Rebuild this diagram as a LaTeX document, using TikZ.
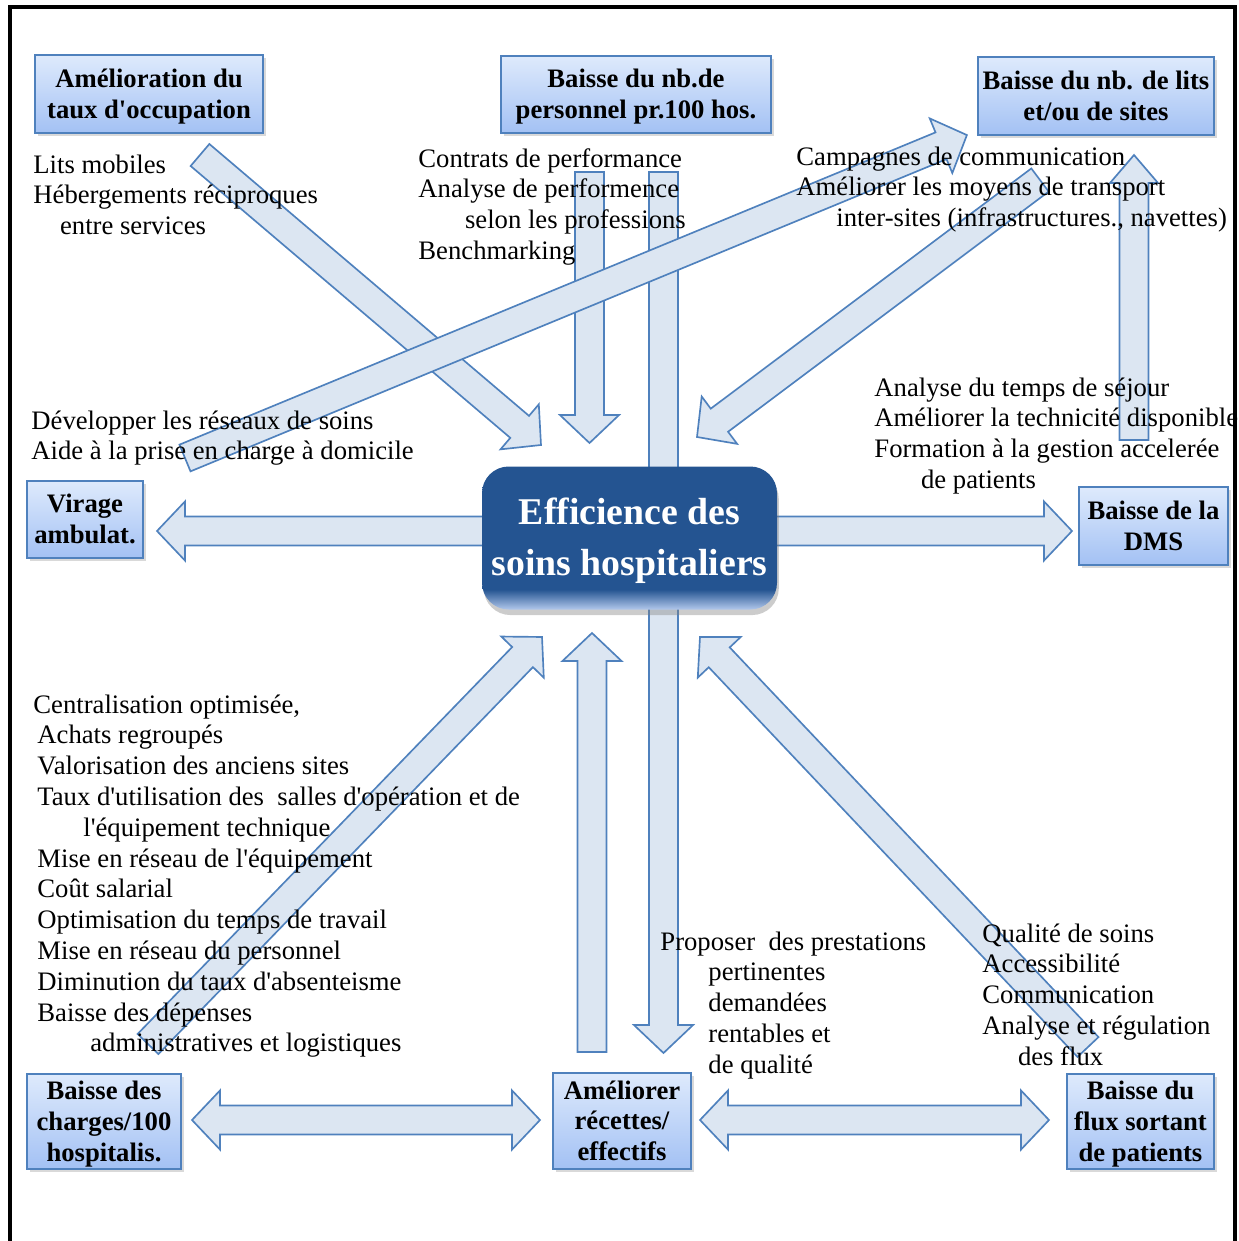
\documentclass[tikz,border=0pt]{standalone}
\usepackage{fontspec}
\setmainfont{Liberation Serif}[Ligatures=TeXOff]
\usetikzlibrary{calc,shadows}

\definecolor{boxline}{RGB}{79,129,189}
\definecolor{boxtop}{RGB}{222,234,252}
\definecolor{boxbot}{RGB}{163,193,244}
\definecolor{arrfill}{RGB}{220,230,242}
\definecolor{effblue}{RGB}{36,84,145}
\definecolor{efflight}{RGB}{178,200,236}
\pgfdeclareverticalshading{effshade}{100bp}{color(0bp)=(efflight); color(25bp)=(efflight); color(32bp)=(effblue); color(100bp)=(effblue)}

\newcommand{\hitop}{\rule{0pt}{11pt}}
\newcommand{\lowbot}{\rule[-3pt]{0pt}{3pt}}

\newcommand{\arrowgeom}[2]{%
  \path let \p1=($(#2)-(#1)$) in
    \pgfextra{\pgfmathsetmacro\tmplen{veclen(\x1,\y1)}\pgfmathsetmacro\tmpang{atan2(\y1,\x1)}%
      \xdef\arrlen{\tmplen}\xdef\arrang{\tmpang}};}
\newcommand{\blockarrow}[3][13.3pt]{%
  \arrowgeom{#2}{#3}
  \draw[arrow body,shift={(#2)},rotate=\arrang]
    (0pt,-6.5pt) -- (\arrlen pt-12.6pt,-6.5pt) -- (\arrlen pt-12.6pt,-#1) -- (\arrlen pt,0pt)
    -- (\arrlen pt-12.6pt,#1) -- (\arrlen pt-12.6pt,6.5pt) -- (0pt,6.5pt) -- cycle;}
\newcommand{\doublearrow}[2]{%
  \arrowgeom{#1}{#2}
  \draw[arrow body,shift={(#1)},rotate=\arrang]
    (0pt,0pt) -- (12.6pt,13.3pt) -- (12.6pt,6.5pt) -- (\arrlen pt-12.6pt,6.5pt) -- (\arrlen pt-12.6pt,13.3pt)
    -- (\arrlen pt,0pt) -- (\arrlen pt-12.6pt,-13.3pt) -- (\arrlen pt-12.6pt,-6.5pt) -- (12.6pt,-6.5pt)
    -- (12.6pt,-13.3pt) -- cycle;}

\begin{document}
\begin{tikzpicture}[x=0.45pt,y=-0.45pt,
  goalbox/.style={draw=boxline, line width=0.8pt, top color=boxtop, bottom color=boxbot, align=center,
    inner sep=0pt, font=\bfseries\fontsize{12}{13.86}\selectfont,
    drop shadow={shadow xshift=1.2pt, shadow yshift=-1.5pt, opacity=0.3}},
  effbox/.style={shading=effshade, rounded corners=12pt, align=center, text=white, inner sep=0pt,
    minimum width=132.75pt, minimum height=64.35pt, font=\bfseries\fontsize{17}{23}\selectfont,
    drop shadow={shadow xshift=0.8pt, shadow yshift=-2.5pt, opacity=0.4}},
  note/.style={anchor=north west, inner sep=0pt, align=left, font=\fontsize{12}{13.86}\selectfont},
  arrow body/.style={draw=boxline, line width=0.75pt, fill=arrfill}]
\useasboundingbox (0,0) rectangle (1239,1241);
\draw[line width=1.4pt] (10,1260) -- (10,7) -- (1235,7) -- (1235,1260);

\coordinate (occ-from) at (200,155);    \coordinate (occ-to) at (541,445);
\coordinate (pers-from) at (589.5,172); \coordinate (pers-to) at (589.5,443);
\coordinate (down-from) at (663.5,172); \coordinate (down-to) at (663.5,1053);
\coordinate (trans-from) at (1040,180); \coordinate (trans-to) at (697,437);
\coordinate (lits-from) at (1134,440);  \coordinate (lits-to) at (1134,155);
\coordinate (camp-from) at (185,458);   \coordinate (camp-to) at (967,135);
\coordinate (charg-from) at (148,1044); \coordinate (charg-to) at (542,637);
\coordinate (rec-from) at (592,1052);   \coordinate (rec-to) at (592,633);
\coordinate (flux-from) at (1088,1047); \coordinate (flux-to) at (700,637);
\coordinate (vir-end) at (157,531);     \coordinate (dms-end) at (1072,531);
\coordinate (chb-left) at (192,1120);   \coordinate (chb-right) at (540,1120);
\coordinate (flb-left) at (700,1120);   \coordinate (flb-right) at (1049,1120);

\foreach \a/\b in {occ-from/occ-to, pers-from/pers-to, down-from/down-to, trans-from/trans-to,
    camp-from/camp-to, charg-from/charg-to, rec-from/rec-to, flux-from/flux-to}
  \blockarrow{\a}{\b};
\blockarrow[10.8pt]{lits-from}{lits-to}
\foreach \a/\b in {vir-end/dms-end, chb-left/chb-right, flb-left/flb-right}
  \doublearrow{\a}{\b};

\node[effbox] (eff) at (629.5,538) {\rule{0pt}{14.5pt}Efficience des\\soins hospitaliers\rule[-3.7pt]{0pt}{3.7pt}};

\node[goalbox, minimum width=102.6pt, minimum height=35.1pt] (occ) at (149,94) {\hitop Amélioration du\\taux d'occupation\lowbot};
\node[goalbox, minimum width=121.5pt, minimum height=34.65pt] (pers) at (636,94.5) {\hitop Baisse du nb.de\\personnel pr.100 hos.\lowbot};
\node[goalbox, minimum width=106.2pt, minimum height=35.1pt] (lits) at (1096,96) {\hitop Baisse du nb. de lits\\et/ou de sites\lowbot};
\node[goalbox, minimum width=52.2pt, minimum height=34.65pt] (virage) at (85,519.5) {\hitop Virage\\ambulat.\lowbot};
\node[goalbox, minimum width=67.05pt, minimum height=35.1pt] (dms) at (1153.5,526) {\hitop Baisse de la\\DMS\lowbot};
\node[goalbox, minimum width=69.3pt, minimum height=42.75pt] (charges) at (104,1121.5) {\hitop Baisse des\\charges/100\\hospitalis.\lowbot};
\node[goalbox, minimum width=62.1pt, minimum height=43.2pt] (recettes) at (622,1121) {\hitop Améliorer\\récettes/\\effectifs\lowbot};
\node[goalbox, minimum width=66.15pt, minimum height=42.75pt] (flux) at (1140.5,1121.5) {\hitop Baisse du\\flux sortant\\de patients\lowbot};

\node[note] (t-occ) at (33,151) {\strut Lits mobiles\\Hébergements réciproques\\\hspace*{12pt}entre services};
\node[note] (t-pers) at (418,145) {\strut Contrats de performance\\Analyse de performence\\\hspace*{21pt}selon les professions\\Benchmarking};
\node[note] (t-lits) at (796,143) {\strut Campagnes de communication\\Améliorer les moyens de transport\\\hspace*{18pt}inter-sites (infrastructures., navettes)};
\node[note] (t-virage) at (31,407) {\strut Développer les réseaux de soins\\Aide à la prise en charge à domicile};
\node[note] (t-dms) at (874,374) {\strut Analyse du temps de séjour\\Améliorer la technicité disponible\\Formation à la gestion accelerée\\\hspace*{21pt}de patients};
\node[note] (t-charges) at (33,691) {\strut Centralisation optimisée,\\\hspace*{1.8pt}Achats regroupés\\\hspace*{1.8pt}Valorisation des anciens sites\\\hspace*{1.8pt}Taux d'utilisation des\ \ salles d'opération et de\\\hspace*{22.5pt}l'équipement technique\\\hspace*{1.8pt}Mise en réseau de l'équipement\\\hspace*{1.8pt}Coût salarial\\\hspace*{1.8pt}Optimisation du temps de travail\\\hspace*{1.8pt}Mise en réseau du personnel\\\hspace*{1.8pt}Diminution du taux d'absenteisme\\\hspace*{1.8pt}Baisse des dépenses\\\hspace*{25.6pt}administratives et logistiques};
\node[note] (t-recettes) at (660,928) {\strut Proposer\ \ des prestations\\\hspace*{21.6pt}pertinentes\\\hspace*{21.6pt}demandées\\\hspace*{21.6pt}rentables et\\\hspace*{21.6pt}de qualité};
\node[note] (t-flux) at (982,920) {\strut Qualité de soins\\Accessibilité\\Communication\\Analyse et régulation\\\hspace*{16pt}des flux};
\end{tikzpicture}
\end{document}
